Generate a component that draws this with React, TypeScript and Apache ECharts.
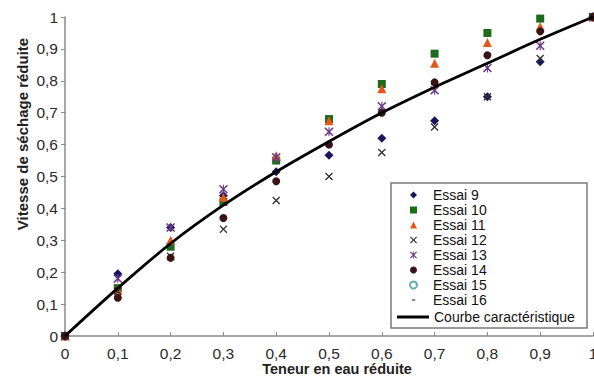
import React, { useEffect, useRef } from "react";
import * as echarts from "echarts";

const xValues = [0, 0.1, 0.2, 0.3, 0.4, 0.5, 0.6, 0.7, 0.8, 0.9, 1];
const essai9 = [0, 0.195, 0.34, 0.44, 0.515, 0.567, 0.62, 0.675, 0.75, 0.86, 1];
const essai10 = [0, 0.15, 0.28, 0.42, 0.55, 0.68, 0.79, 0.885, 0.95, 0.995, 1];
const essai11 = [0, 0.145, 0.3, 0.435, 0.565, 0.675, 0.775, 0.855, 0.92, 0.97, 1];
const essai12 = [0, 0.14, 0.25, 0.335, 0.425, 0.5, 0.575, 0.655, 0.75, 0.87, 1];
const essai13 = [0, 0.18, 0.34, 0.46, 0.56, 0.64, 0.72, 0.77, 0.84, 0.91, 1];
const essai14 = [0, 0.12, 0.245, 0.37, 0.485, 0.6, 0.7, 0.795, 0.88, 0.955, 1];
const essai15X = [0, 1];
const essai15 = [0, 1];
const essai16X = [0, 1];
const essai16 = [0, 1];
const courbe = [0, 0.15, 0.29, 0.41, 0.515, 0.61, 0.7, 0.78, 0.855, 0.93, 1];

const FONT = "'Liberation Sans', Arial, sans-serif";

const X_PATH =
  "path://M0,1.2 L1.2,0 L5,3.8 L8.8,0 L10,1.2 L6.2,5 L10,8.8 L8.8,10 L5,6.2 L1.2,10 L0,8.8 L3.8,5 Z";
const STAR_PATH =
  "path://M0,1.2 L1.2,0 L4.4,3.2 L4.4,0 L5.6,0 L5.6,3.2 L8.8,0 L10,1.2 L6.2,5 L10,8.8 L8.8,10 L5.6,6.8 L5.6,10 L4.4,10 L4.4,6.8 L1.2,10 L0,8.8 L3.8,5 Z";
const DASH_PATH = "path://M0,0 M10,10 M2.5,4 L7.5,4 L7.5,6 L2.5,6 Z";

function pairs(xs: number[], ys: number[]) {
  return ys.map((y, i) => [xs[i], y]);
}

export default function App() {
  const ref = useRef<HTMLDivElement>(null);
  useEffect(() => {
    if (!ref.current) return;
    const chart = echarts.init(ref.current, null, { renderer: "svg" });
    const fmt = (v: number) => String(Number(v.toFixed(1))).replace(".", ",");
    const scatter = (
      name: string,
      data: number[][],
      symbol: string,
      size: number,
      color: string,
      z: number
    ) => ({
      name,
      type: "scatter",
      data,
      symbol,
      symbolSize: size,
      itemStyle: { color, opacity: 1 },
      z,
    });
    const legendText = {
      fontSize: 14,
      lineHeight: 15,
      color: "#111",
      fontFamily: FONT,
    };
    chart.setOption({
      animation: false,
      grid: { left: 65, right: 1, top: 17, bottom: 43, outerBoundsMode: "none" },
      xAxis: {
        type: "value",
        min: 0,
        max: 1,
        interval: 0.1,
        axisLine: { show: true, lineStyle: { color: "#8a8a8a", width: 1.5 } },
        axisTick: { show: true, inside: true, length: 4, lineStyle: { color: "#8a8a8a" } },
        axisLabel: {
          formatter: fmt,
          fontSize: 15.5,
          color: "#2a2a2a",
          fontFamily: FONT,
          margin: 9,
        },
        splitLine: { show: false },
      },
      yAxis: {
        type: "value",
        min: 0,
        max: 1,
        interval: 0.1,
        axisLine: { show: true, lineStyle: { color: "#8a8a8a", width: 1.5 } },
        axisTick: { show: true, inside: false, length: 4, lineStyle: { color: "#8a8a8a" } },
        axisLabel: {
          formatter: fmt,
          fontSize: 15.5,
          color: "#2a2a2a",
          fontFamily: FONT,
          margin: 7,
        },
        splitLine: { show: false },
      },
      graphic: [
        {
          type: "rect",
          shape: { x: 391, y: 183, width: 196, height: 145 },
          style: { fill: "#fff", stroke: "#7a7a7a", lineWidth: 1.5 },
          z: 3,
        },
        {
          type: "text",
          x: 22,
          y: 134,
          rotation: Math.PI / 2,
          style: {
            text: "Vitesse de séchage réduite",
            fontSize: 15,
            fontWeight: "bold",
            fontFamily: FONT,
            fill: "#222",
            textAlign: "center",
            textVerticalAlign: "middle",
          },
        },
        {
          type: "text",
          x: 337,
          y: 369,
          style: {
            text: "Teneur en eau réduite",
            fontSize: 14.5,
            fontWeight: "bold",
            fontFamily: FONT,
            fill: "#222",
            textAlign: "center",
            textVerticalAlign: "middle",
          },
        },
      ],
      legend: [
        {
          orient: "vertical",
          left: 409,
          top: 187.5,
          itemWidth: 7,
          itemHeight: 7,
          itemGap: 0,
          padding: 0,
          z: 5,
          textStyle: { ...legendText, padding: [0, 0, 0, 11] },
          data: [
            "Essai 9",
            "Essai 10",
            "Essai 11",
            "Essai 12",
            "Essai 13",
            "Essai 14",
            "Essai 15",
            { name: "Essai 16", icon: DASH_PATH },
          ],
        },
        {
          orient: "vertical",
          left: 397,
          top: 309.5,
          itemWidth: 32,
          itemHeight: 3,
          padding: 0,
          z: 5,
          textStyle: legendText,
          data: [{ name: "Courbe caractéristique", icon: "rect" }],
        },
      ],
      series: [
        {
          name: "Courbe caractéristique",
          type: "line",
          data: pairs(xValues, courbe),
          symbol: "none",
          smooth: 0.3,
          lineStyle: { color: "#000", width: 2.8 },
          itemStyle: { color: "#000" },
          z: 4,
        },
        scatter("Essai 9", pairs(xValues, essai9), "diamond", 9, "#16165e", 3),
        scatter("Essai 10", pairs(xValues, essai10), "rect", 8, "#1d6b1d", 3),
        scatter("Essai 11", pairs(xValues, essai11), "triangle", 9, "#e2581a", 3),
        scatter("Essai 12", pairs(xValues, essai12), X_PATH, 8, "#333333", 3),
        scatter("Essai 13", pairs(xValues, essai13), STAR_PATH, 9, "#6b3a8c", 3),
        scatter("Essai 14", pairs(xValues, essai14), "circle", 8, "#3a1414", 3),
        {
          name: "Essai 15",
          type: "scatter",
          data: pairs(essai15X, essai15),
          symbol: "emptyCircle",
          symbolSize: 7,
          itemStyle: { color: "#3c9c9c", borderColor: "#3c9c9c", borderWidth: 1.5 },
          z: 2,
        },
        {
          name: "Essai 16",
          type: "scatter",
          data: pairs(essai16X, essai16),
          symbol: "rect",
          symbolSize: [6, 2],
          itemStyle: { color: "#333" },
          z: 2,
        },
      ],
    });
    return () => chart.dispose();
  }, []);
  return (
    <div
      ref={ref}
      style={{ position: "absolute", left: 0, top: 0, width: 594, height: 379 }}
    />
  );
}
